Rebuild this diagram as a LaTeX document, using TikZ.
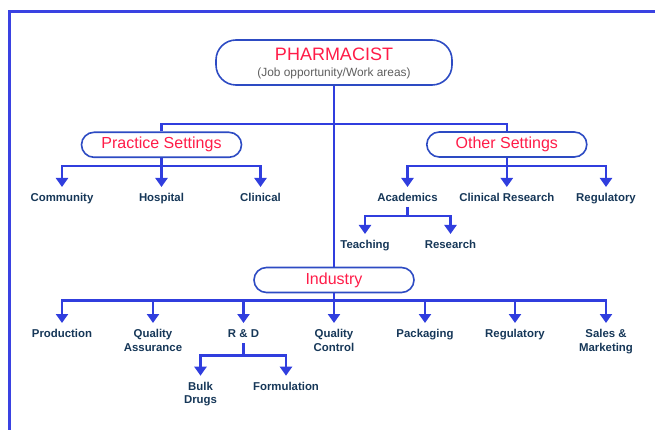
\documentclass[tikz,border=0pt]{standalone}
\usepackage{fontspec}
\setmainfont{Liberation Sans}
\usetikzlibrary{arrows.meta}
\definecolor{linec}{RGB}{48,62,222}
\definecolor{framec}{RGB}{58,66,226}
\definecolor{boxc}{RGB}{45,75,195}
\definecolor{titlec}{RGB}{255,28,72}
\definecolor{subc}{RGB}{95,95,95}
\definecolor{labc}{RGB}{22,55,88}
\tikzset{
  conn/.style={draw=linec, line width=2.4pt},
  arr/.style={conn, -{Triangle[width=12pt,length=9pt]}, shorten >=6pt},
  bigbox/.style={draw=boxc, line width=1.6pt, fill=white, rounded corners=20pt, minimum width=236pt, minimum height=45pt},
  setbox/.style={draw=boxc, line width=1.6pt, fill=white, rounded corners=12.5pt, minimum width=160pt, minimum height=25pt, text=titlec, font=\fontsize{16}{19}\selectfont},
  lab/.style={anchor=north, inner sep=0pt, text=labc, align=center, font=\bfseries\fontsize{11.4}{13.7}\selectfont},
}
\begin{document}
\begin{tikzpicture}[x=1pt,y=-1pt]
\useasboundingbox (0,0) rectangle (655,430);
% frame
\draw[draw=framec, line width=3pt] (9.5,430) -- (9.5,11.5) -- (655,11.5);

% top box
\node[bigbox] (pharm) at (334,62.5) {};
\node[anchor=base, inner sep=0pt, text=titlec, font=\fontsize{18}{20}\selectfont] (ptitle) at (334,60.7) {PHARMACIST};
\node[anchor=base, inner sep=0pt, text=subc, font=\fontsize{11.9}{14}\selectfont] (psub) at (334,76.7) {(Job opportunity/Work areas)};

% setting boxes
\node[setbox] (practice) at (161.5,144.8) {Practice Settings};
\node[setbox] (other) at (506.8,144.5) {Other Settings};
\node[setbox] (industry) at (334,280) {Industry};

% trunk
\draw[conn] (pharm.south) -- (industry.north);
\draw[conn] (practice.north) -- ++(0,-7.3) -| (other.north);

% practice children
\node[lab] (community) at (62,193) {Community};
\node[lab] (hospital) at (161.5,193) {Hospital};
\node[lab] (clinical) at (260.5,193) {Clinical};
\draw[arr] (practice.south) -- ++(0,8) -| (community.north);
\draw[arr] (practice.south) -- ++(0,8) -| (hospital.north);
\draw[arr] (practice.south) -- ++(0,8) -| (clinical.north);

% other children
\node[lab] (academics) at (407.5,193) {Academics};
\node[lab] (clinres) at (506.8,193) {Clinical Research};
\node[lab] (regul) at (606,193) {Regulatory};
\draw[arr] (other.south) -- ++(0,8.5) -| (academics.north);
\draw[arr] (other.south) -- ++(0,8.5) -| (clinres.north);
\draw[arr] (other.south) -- ++(0,8.5) -| (regul.north);

% academics children
\node[lab] (teaching) at (365,240) {Teaching};
\node[lab] (research) at (450.5,240) {Research};
\draw[arr, shorten <=5pt] (academics.south) -- ++(0,14) -| (teaching.north);
\draw[arr, shorten <=5pt] (academics.south) -- ++(0,14) -| (research.north);

% industry children
\node[lab] (production) at (62,329) {Production};
\node[lab] (qa) at (153,329) {Quality\\Assurance};
\node[lab] (rnd) at (243.5,329) {R \& D};
\node[lab] (qc) at (334,329) {Quality\\Control};
\node[lab] (packaging) at (425,329) {Packaging};
\node[lab] (regul2) at (515,329) {Regulatory};
\node[lab] (sales) at (606,329) {Sales \&\\Marketing};
\foreach \n in {production,qa,rnd,qc,packaging,regul2,sales}
  \draw[arr] (industry.south) -- ++(0,7.3) -| (\n.north);

% R&D children
\node[lab] (bulk) at (200.5,381.7) {Bulk\\Drugs};
\node[lab] (formulation) at (286,381.7) {Formulation};
\draw[arr, shorten <=6pt] (rnd.south) -- ++(0,18) -| (bulk.north);
\draw[arr, shorten <=6pt] (rnd.south) -- ++(0,18) -| (formulation.north);
\end{tikzpicture}
\end{document}
